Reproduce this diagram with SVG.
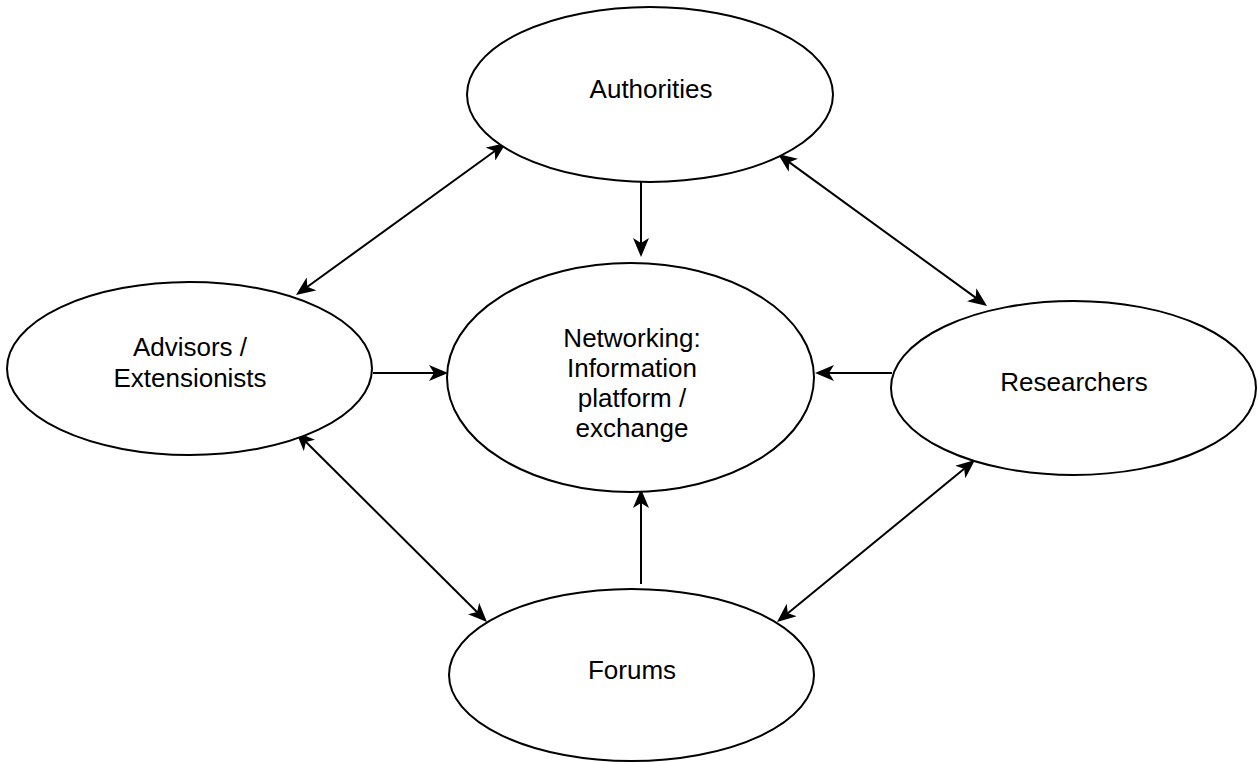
<svg xmlns="http://www.w3.org/2000/svg" width="1258" height="762" viewBox="0 0 1258 762">
<style>
.node ellipse{fill:#fff;stroke:#000;stroke-width:2}
.node text{font-family:"Liberation Sans",Arial,sans-serif;font-size:26px;fill:#000;text-anchor:middle}
.edge{stroke:#000;stroke-width:2;fill:none}
</style>
<defs>
<marker id="arr" markerUnits="userSpaceOnUse" markerWidth="20" markerHeight="16" refX="7" refY="8" orient="auto-start-reverse" viewBox="0 0 19 16">
<path d="M0,0 L19,8 L0,16 L5,8 Z" fill="#000"/>
</marker>
</defs>
<rect width="1258" height="762" fill="#fff"/>
<g id="connectors">
<line class="edge" x1="641" y1="182" x2="641" y2="245" marker-end="url(#arr)"/>
<line class="edge" x1="641" y1="584" x2="641" y2="501" marker-end="url(#arr)"/>
<line class="edge" x1="373" y1="373" x2="436" y2="373" marker-end="url(#arr)"/>
<line class="edge" x1="892" y1="373" x2="827" y2="373" marker-end="url(#arr)"/>
<line class="edge" x1="496.3" y1="150" x2="305.7" y2="288" marker-start="url(#arr)" marker-end="url(#arr)"/>
<line class="edge" x1="787.7" y1="161.1" x2="977.3" y2="298.9" marker-start="url(#arr)" marker-end="url(#arr)"/>
<line class="edge" x1="304.5" y1="440.5" x2="478.5" y2="613.5" marker-start="url(#arr)" marker-end="url(#arr)"/>
<line class="edge" x1="965.7" y1="467.6" x2="786.3" y2="614.4" marker-start="url(#arr)" marker-end="url(#arr)"/>
</g>
<g id="authorities" class="node">
<ellipse cx="650" cy="94.5" rx="183" ry="87.5"/>
<text x="651" y="98">Authorities</text>
</g>
<g id="networking" class="node">
<ellipse cx="630.5" cy="377.5" rx="183.5" ry="114.5"/>
<text x="632" y="347">Networking:</text>
<text x="632" y="377">Information</text>
<text x="632" y="407">platform /</text>
<text x="632" y="437">exchange</text>
</g>
<g id="advisors" class="node">
<ellipse cx="189.5" cy="368.5" rx="182.5" ry="86.5"/>
<text x="190" y="356">Advisors /</text>
<text x="190" y="387">Extensionists</text>
</g>
<g id="researchers" class="node">
<ellipse cx="1073.5" cy="388" rx="182.5" ry="87"/>
<text x="1074" y="391">Researchers</text>
</g>
<g id="forums" class="node">
<ellipse cx="631.5" cy="675" rx="182.5" ry="86"/>
<text x="632" y="679">Forums</text>
</g>
</svg>
